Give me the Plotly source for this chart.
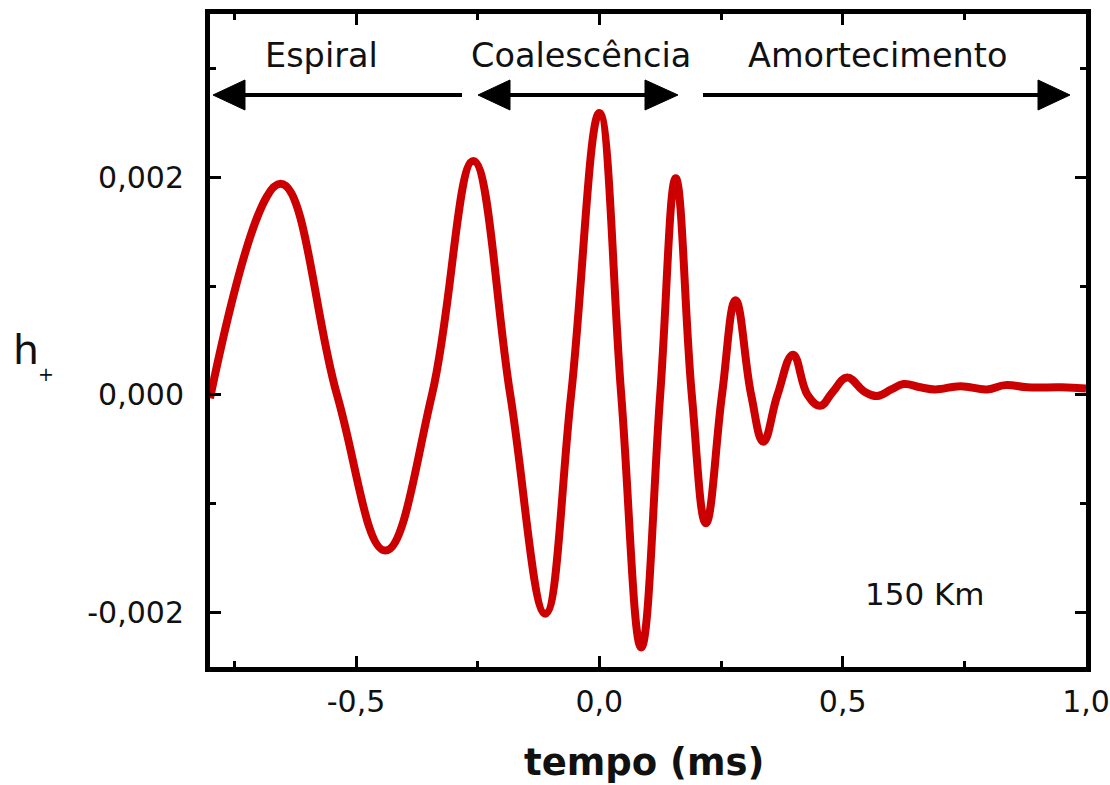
import plotly.graph_objects as go

# ---- data ----
tempo_ms = [-0.800, -0.655, -0.539, -0.440, -0.344, -0.259,
            -0.183, -0.111, -0.058, 0.000, 0.045, 0.086, 0.125, 0.157,
            0.190, 0.219, 0.252, 0.280, 0.312, 0.337, 0.366, 0.398,
            0.428, 0.454, 0.480, 0.509, 0.545, 0.571, 0.600, 0.625,
            0.660, 0.690, 0.742, 0.797, 0.834, 0.880, 0.950, 1.000]
h_plus = [-0.00003, 0.00194, 0.00000, -0.00143, 0.00000, 0.00215,
          0.00000, -0.00201, 0.00000, 0.00259, 0.00000, -0.00232, 0.00000, 0.00199,
          0.00000, -0.00118, 0.00000, 0.00087, 0.00000, -0.00043, 0.00000, 0.00037,
          0.00000, -0.00010, 0.00003, 0.00016, 0.00003, -0.00001, 0.00005, 0.00010,
          0.00007, 0.00005, 0.00008, 0.00005, 0.00009, 0.00007, 0.00007, 0.00006]

x_tick_vals = [-0.5, 0.0, 0.5, 1.0]
x_tick_text = ["-0,5", "0,0", "0,5", "1,0"]
x_minor_vals = [-0.75, -0.25, 0.25, 0.75]
y_tick_vals = [0.002, 0.0, -0.002]
y_tick_text = ["0,002", "0,000", "-0,002"]
y_minor_vals = [0.003, 0.001, -0.001]

phase_labels = ["Espiral", "Coalescência", "Amortecimento"]

# ---- layout geometry (pixels) ----
W, H = 1110, 785
PL, PR, PT, PB = 210, 1086, 14, 667
PW, PH = PR - PL, PB - PT

def px(xp):
    return (xp - PL) / PW

def py(yp):
    return (PB - yp) / PH

FONT = "DejaVu Sans"

fig = go.Figure()
fig.add_trace(go.Scatter(
    x=tempo_ms, y=h_plus, mode="lines",
    line=dict(color="#cc0000", width=8, shape="spline", smoothing=1.2),
    hoverinfo="skip", showlegend=False,
))

axis_common = dict(
    showline=True, linewidth=5, linecolor="black", mirror="allticks",
    ticks="inside", ticklen=11, tickwidth=3, tickcolor="black",
    showgrid=False, zeroline=False, automargin=False,
    tickfont=dict(family=FONT, size=30, color="#111111"),
)

fig.update_xaxes(
    range=[-0.8, 1.0], tickmode="array", tickvals=x_tick_vals, ticktext=x_tick_text,
    minor=dict(tickmode="array", tickvals=x_minor_vals, ticks="inside", ticklen=6,
               tickwidth=3, tickcolor="black", showgrid=False),
    ticklabelstandoff=4,
    **axis_common,
)
fig.update_yaxes(
    range=[-0.0025, 0.0035], tickmode="array", tickvals=y_tick_vals, ticktext=y_tick_text,
    minor=dict(tickmode="array", tickvals=y_minor_vals, ticks="inside", ticklen=6,
               tickwidth=3, tickcolor="black", showgrid=False),
    ticklabelstandoff=15,
    **axis_common,
)

shapes = []
ay = py(95)
# arrow shafts
for x0, x1 in [(235, 462), (500, 655), (703, 1045)]:
    shapes.append(dict(type="line", xref="paper", yref="paper",
                       x0=px(x0), x1=px(x1), y0=ay, y1=ay,
                       line=dict(color="black", width=4)))
# arrow heads (tip, base)
for tip, base in [(213, 245), (478, 510), (678, 645), (1070, 1038)]:
    path = "M {:.5f},{:.5f} L {:.5f},{:.5f} L {:.5f},{:.5f} Z".format(
        px(tip), ay, px(base), py(80), px(base), py(110))
    shapes.append(dict(type="path", xref="paper", yref="paper", path=path,
                       fillcolor="black", line=dict(color="black", width=1)))

annotations = []
for label, xc in zip(phase_labels, [321, 581, 877]):
    annotations.append(dict(text=label, xref="paper", yref="paper",
                            x=px(xc), y=py(56), xanchor="center", yanchor="middle",
                            showarrow=False,
                            font=dict(family=FONT, size=33.5, color="#111111")))
annotations.append(dict(text="150 Km", xref="paper", yref="paper",
                        x=px(925), y=py(594), xanchor="center", yanchor="middle",
                        showarrow=False, font=dict(family=FONT, size=31, color="#111111")))
annotations.append(dict(text="<b>tempo (ms)</b>", xref="paper", yref="paper",
                        x=px(644), y=py(762), xanchor="center", yanchor="middle",
                        showarrow=False, font=dict(family=FONT, size=37, color="#111111")))
annotations.append(dict(text="h", xref="paper", yref="paper",
                        x=px(26), y=py(350), xanchor="center", yanchor="middle",
                        showarrow=False, font=dict(family=FONT, size=41, color="#111111")))
annotations.append(dict(text="+", xref="paper", yref="paper",
                        x=px(46), y=py(374), xanchor="center", yanchor="middle",
                        showarrow=False, font=dict(family=FONT, size=19, color="#111111")))

fig.update_layout(
    width=W, height=H, autosize=False,
    margin=dict(l=PL, r=W - PR, t=PT, b=H - PB, pad=0),
    paper_bgcolor="white", plot_bgcolor="white",
    shapes=shapes, annotations=annotations,
    showlegend=False,
)

fig.write_html(
    "out.html",
    config={"displayModeBar": False},
    post_script="document.body.style.margin='0px';document.documentElement.style.overflow='hidden';document.body.style.overflow='hidden';",
)
